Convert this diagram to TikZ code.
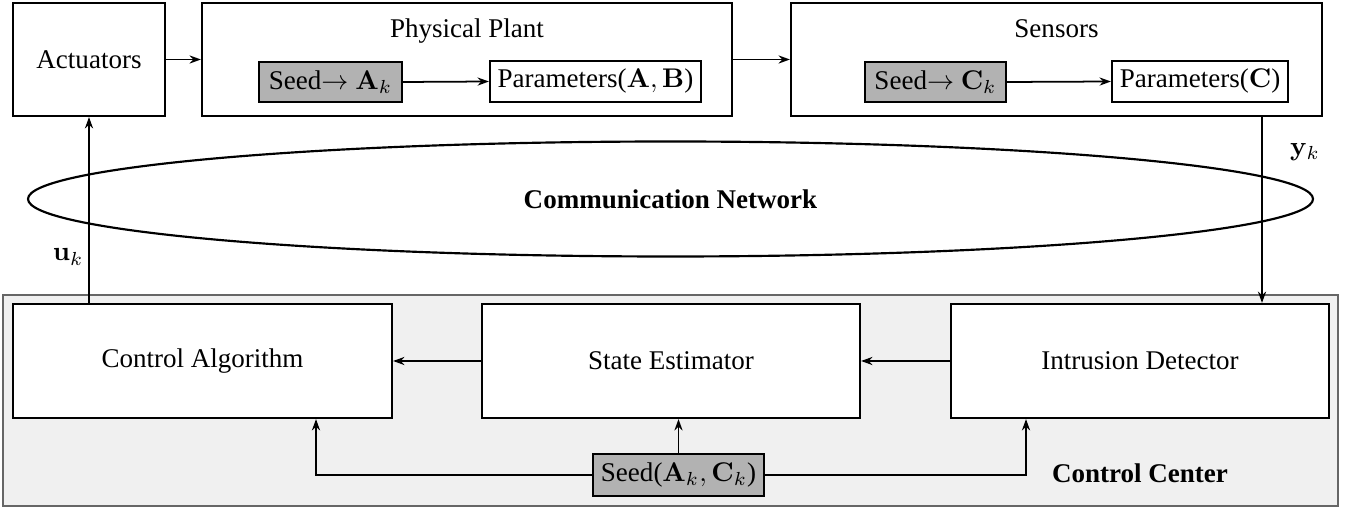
\documentclass[tikz,border=0pt]{standalone}
\usepackage[no-math]{fontspec}
\setmainfont{Liberation Serif}
\usetikzlibrary{shapes.geometric,arrows.meta}
\begin{document}
\begin{tikzpicture}[x=0.37pt,y=-0.37pt,
  box/.style={draw, line width=0.8pt, fill=white, inner sep=0pt},
  graybox/.style={draw, line width=0.8pt, fill=gray!60, inner sep=0pt},
  sz/.style 2 args={minimum width={#1*0.37pt}, minimum height={#2*0.37pt}},
  arr/.style={line width=0.65pt, -{Stealth[length=4.2pt,width=3pt]}},
  lbl/.style={inner sep=0pt, anchor=base}
]
\useasboundingbox (0,0) rectangle (1348,510);

% control center background
\node[draw=black!60, line width=0.6pt, fill=black!6, inner sep=0pt, sz={1335}{211}] (cc) at (670.5,400.5) {};
\node[lbl, font=\bfseries] (cclbl) at (1140,483) {Control Center};

% top row
\node[box, sz={152}{113}] (act) at (89,59.5) {Actuators};
\node[box, sz={530}{113}] (plant) at (467,59.5) {};
\node[lbl] (plantlbl) at (467,38) {Physical Plant};
\node[graybox, sz={143}{40}] (seedA) at (330.5,82) {Seed$\rightarrow$ $\mathbf{A}_k$};
\node[box, sz={211}{41}] (parAB) at (595.5,81.5) {Parameters($\mathbf{A},\mathbf{B}$)};
\node[box, sz={531}{113}] (sens) at (1056.5,59.5) {};
\node[lbl] (senslbl) at (1056.5,38) {Sensors};
\node[graybox, sz={141}{40}] (seedC) at (935.5,82) {Seed$\rightarrow$ $\mathbf{C}_k$};
\node[box, sz={176}{41}] (parC) at (1200,81.5) {Parameters($\mathbf{C}$)};

% network
\node[ellipse, draw, line width=0.8pt, inner sep=0pt, sz={1285}{115}, font=\bfseries] (net) at (670.5,199) {Communication Network};

% control center blocks
\node[box, sz={379}{114}] (ca) at (202.5,361) {Control Algorithm};
\node[box, sz={378}{114}] (se) at (671,361) {State Estimator};
\node[box, sz={378}{114}] (id) at (1140,361) {Intrusion Detector};
\node[graybox, sz={171}{42}] (seed) at (678.5,475) {Seed($\mathbf{A}_k,\mathbf{C}_k$)};

% helper coordinates
\coordinate (yx) at (1262,0);
\coordinate (cax) at (316,0);
\coordinate (idx) at (1026,0);

% connectors
\draw[arr] (act.east) -- (plant.west);
\draw[arr] (plant.east) -- (sens.west);
\draw[arr] (seedA.east) -- (parAB.west);
\draw[arr] (seedC.east) -- (parC.west);
\draw[arr] (act.south |- ca.north) -- (act.south);
\node[inner sep=0pt, anchor=east] (uk) at (84,257) {$\mathbf{u}_k$};
\draw[arr] (sens.south -| yx) -- (id.north -| yx);
\node[inner sep=0pt] (yk) at (1305,152) {$\mathbf{y}_k$};
\draw[arr] (se.west) -- (ca.east);
\draw[arr] (id.west) -- (se.east);
\draw[arr] (seed.north) -- (seed.north |- se.south);
\draw[arr] (seed.west) -| (cax |- ca.south);
\draw[arr] (seed.east) -| (idx |- id.south);
\end{tikzpicture}
\end{document}
